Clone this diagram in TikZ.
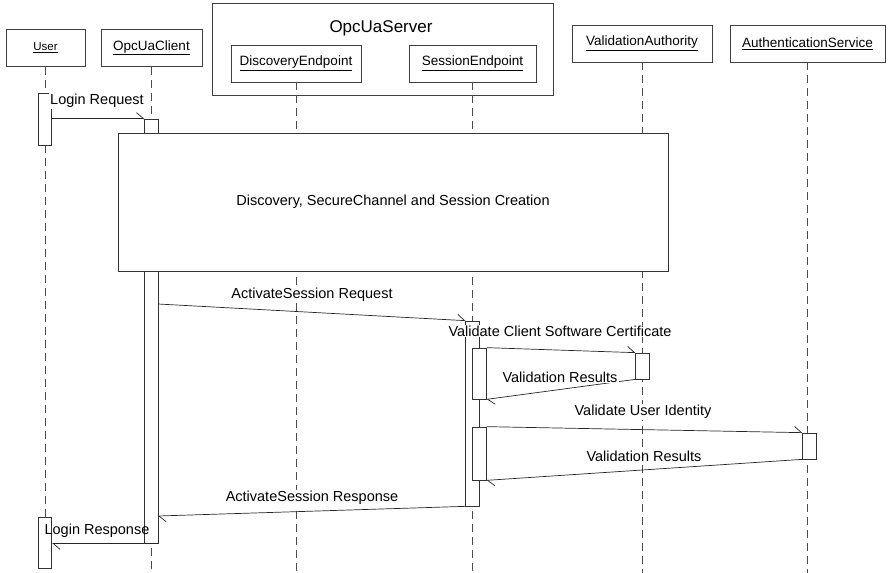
\documentclass[tikz,border=0pt]{standalone}
\usepackage{fontspec}
\setmainfont{Liberation Sans}
\usetikzlibrary{arrows.meta, positioning, calc}

\begin{document}
\begin{tikzpicture}[x=1pt, y=-1pt, line width=0.7pt,
    obj/.style={draw=black!75, fill=white, minimum height=37pt, inner sep=2pt, font=\fontsize{13.5}{15}\selectfont},
    life/.style={black!70, dash pattern=on 8pt off 5pt},
    act/.style={draw=black!80, fill=white, minimum width=13.5pt, inner sep=0pt},
    msg/.style={black!85, -{Straight Barb[left, length=7pt, width=12pt]}},
    lbl/.style={fill=white, inner sep=1pt, font=\fontsize{14.5}{16}\selectfont}]
                \useasboundingbox (0,0) rectangle (889,573);
                \coordinate (bot) at (0,573);
                % User
                \node[obj, minimum width=79pt, font=\fontsize{11.5}{13}\selectfont] (user) at (45.5,48) {\underline{User}};
                % OpcUaClient
                \node[obj, minimum width=101pt] (client) at (151.5,48) {\underline{OpcUaClient}};
                % OpcUaServer
                \node[draw=black!75, minimum width=341pt, minimum height=92pt] (server) at (382.5,49) {};
                \node[font=\fontsize{17}{19}\selectfont] (srvname) at (381,28) {OpcUaServer};
                \node[obj, minimum width=130pt] (disc) at (296,63.5) {\underline{DiscoveryEndpoint}};
                \node[obj, minimum width=127pt] (sess) at (472.5,63.5) {\underline{SessionEndpoint}};
                % ValidationAuthority / AuthenticationService
                \node[obj, minimum width=140pt] (valid) at (642,43.5) {\underline{ValidationAuthority}};
                \node[obj, minimum width=155pt] (auth) at (807.5,43.5) {\underline{AuthenticationService}};
                % Lifelines
                \foreach \o in {user, client, disc, sess, valid, auth}
                    \draw[life] (\o.south) -- (\o.south |- bot);
                % Activations
                \node[act, minimum height=52pt] (ua1) at (45,119) {};
                \node[act, minimum height=424pt] (cl) at (151.5,331) {};
                \node[act, minimum height=185pt] (se) at (472.5,413.5) {};
                \node[act, minimum height=51pt] (sv1) at (479.5,373.5) {};
                \node[act, minimum height=26pt] (va) at (642.5,366) {};
                \node[act, minimum height=53pt] (sv2) at (479.5,453.5) {};
                \node[act, minimum height=26pt] (as) at (809.5,446) {};
                \node[act, minimum height=51pt] (ua2) at (45,542.5) {};
                % Creation block
                \node[draw=black!80, fill=white, minimum width=550pt, minimum height=138pt, font=\fontsize{14.5}{16}\selectfont] (create) at (393,202) {Discovery, SecureChannel and Session Creation};
                % Messages
                \coordinate (reqstart) at (158,304);
                \coordinate (respend) at (158,516);
                \draw[msg] (ua1.east |- cl.north) -- (cl.north west);
                \node[lbl] (loginreq) at (97,101) {Login Request};
                \draw[msg] (reqstart) -- (se.north west);
                \node[lbl] (actreq) at (312,295) {ActivateSession Request};
                \draw[msg] (sv1.north east) -- (va.north west);
                \node[lbl] (valcert) at (560,331) {Validate Client Software Certificate};
                \draw[msg] (va.south west) -- (sv1.south east);
                \node[lbl] (res1) at (560,377) {Validation Results};
                \draw[msg] (sv2.north east) -- (as.north west);
                \node[lbl] (valuser) at (643,412) {Validate User Identity};
                \draw[msg] (as.south west) -- (sv2.south east);
                \node[lbl, fill=none] (res2) at (644,456) {Validation Results};
                \draw[msg] (se.south west) -- (respend);
                \node[lbl] (actresp) at (312,498) {ActivateSession Response};
                \draw[msg] (cl.south east) -- (ua2.east |- cl.south);
                \node[lbl, fill=none] (loginresp) at (97,531) {Login Response};
\end{tikzpicture}
\end{document}
